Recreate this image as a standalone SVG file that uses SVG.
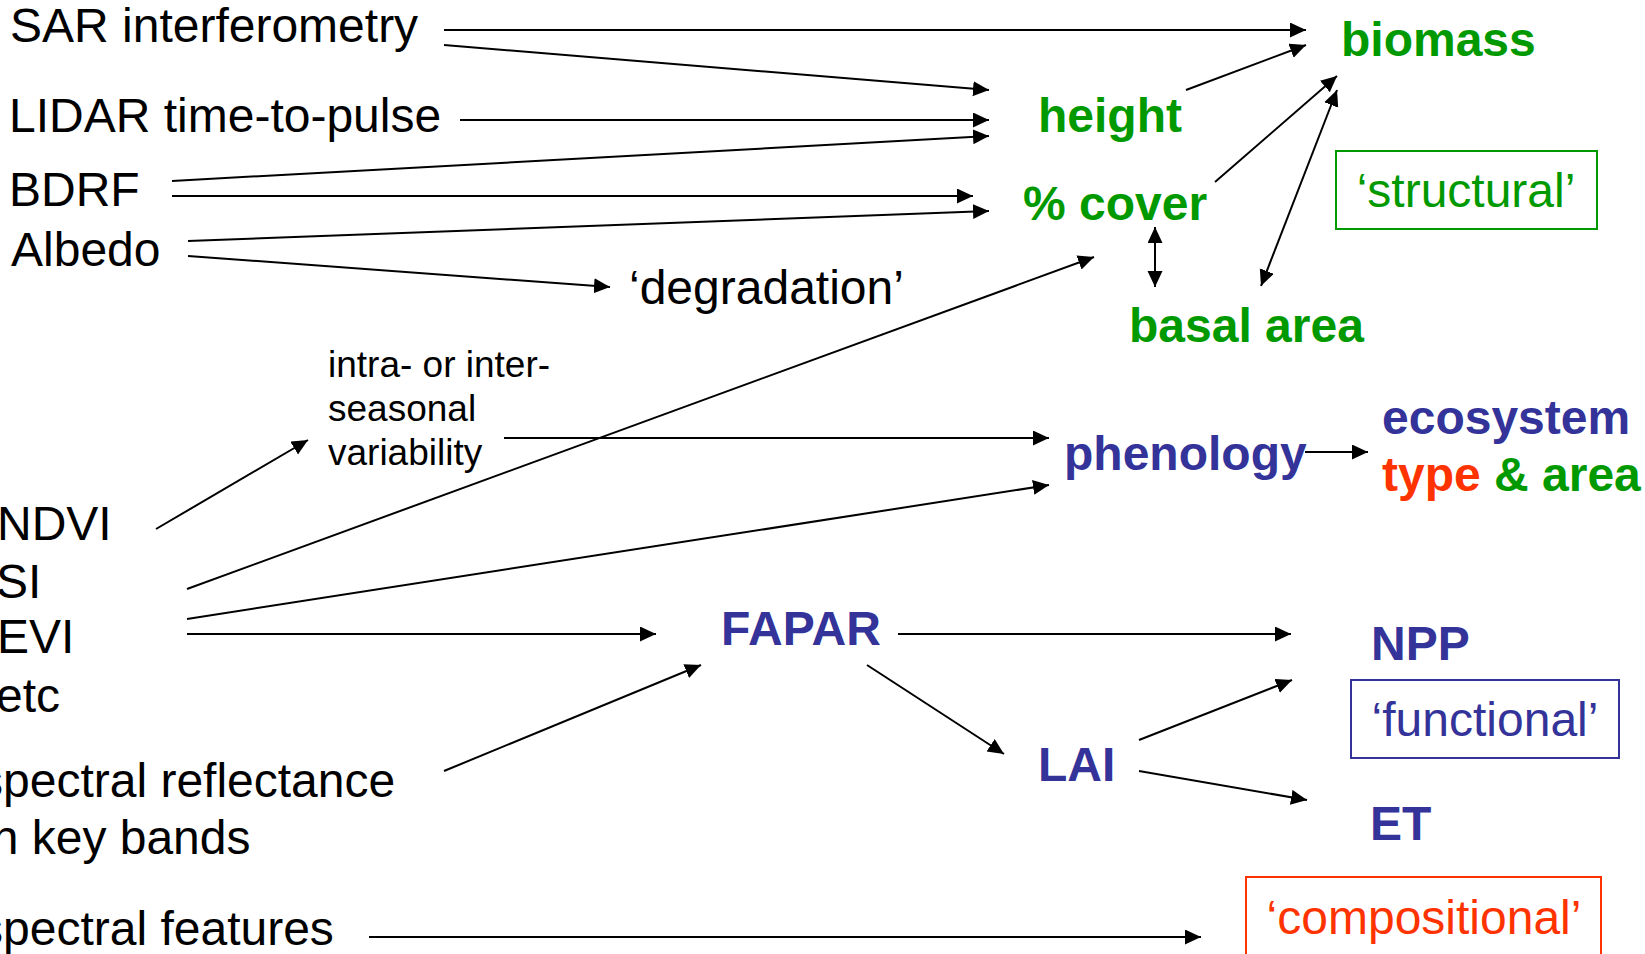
<svg xmlns="http://www.w3.org/2000/svg" width="1645" height="954" viewBox="0 0 1645 954">
  <defs>
    <style>
      text { font-family: "Liberation Sans", Arial, sans-serif; font-size: 48px; fill: #000; }
      .bold { font-weight: bold; }
      .small { font-size: 37px; }
      .green { fill: #009900; }
      .blue { fill: #333399; }
      .red { fill: #FF3300; }
      .mid { text-anchor: middle; }
      .conn line { stroke: #000; stroke-width: 2; fill: none; marker-end: url(#arrow); }
      .conn line.both { marker-start: url(#arrow); }
      .box { fill: none; stroke-width: 2; }
    </style>
    <marker id="arrow" markerUnits="userSpaceOnUse" markerWidth="17" markerHeight="16" refX="16" refY="7.5" orient="auto-start-reverse">
      <path d="M0,0 L16,7.5 L0,15 z" fill="#000"/>
    </marker>
  </defs>
  <rect width="1645" height="954" fill="#fff"/>

  <!-- sources -->
  <g id="sar"><text x="10" y="42">SAR interferometry</text></g>
  <g id="lidar"><text x="9" y="132">LIDAR time-to-pulse</text></g>
  <g id="bdrf"><text x="9" y="206">BDRF</text></g>
  <g id="albedo"><text x="11" y="266">Albedo</text></g>
  <g id="ndvi"><text x="-3" y="540">NDVI</text></g>
  <g id="si"><text x="-4" y="598">SI</text></g>
  <g id="evi"><text x="-3" y="653">EVI</text></g>
  <g id="etc"><text x="-4" y="712">etc</text></g>
  <g id="reflectance">
    <text x="-21" y="797">spectral reflectance</text>
    <text x="-19" y="854">in key bands</text>
  </g>
  <g id="features"><text x="-21" y="945">spectral features</text></g>

  <!-- intermediate -->
  <g id="degradation"><text x="629" y="304">‘degradation’</text></g>
  <g id="variability">
    <text class="small" x="328" y="377">intra- or inter-</text>
    <text class="small" x="328" y="421">seasonal</text>
    <text class="small" x="328" y="465">variability</text>
  </g>

  <!-- structural -->
  <g id="biomass"><text class="bold green" x="1341" y="56">biomass</text></g>
  <g id="height"><text class="bold green" x="1038" y="132">height</text></g>
  <g id="cover"><text class="bold green" x="1023" y="220">% cover</text></g>
  <g id="basal"><text class="bold green" x="1129" y="342">basal area</text></g>
  <g id="structural">
    <rect class="box" x="1336" y="151" width="261" height="78" stroke="#009900"/>
    <text class="green mid" x="1466" y="207">‘structural’</text>
  </g>

  <!-- phenology / ecosystem -->
  <g id="phenology"><text class="bold blue" x="1064" y="470">phenology</text></g>
  <g id="ecosystem">
    <text class="bold blue" x="1382" y="434">ecosystem</text>
    <text class="bold" x="1382" y="491"><tspan class="red">type</tspan><tspan class="green"> &amp; area</tspan></text>
  </g>

  <!-- functional -->
  <g id="fapar"><text class="bold blue" x="721" y="645" textLength="160">FAPAR</text></g>
  <g id="lai"><text class="bold blue" x="1038" y="781">LAI</text></g>
  <g id="npp"><text class="bold blue" x="1371" y="660">NPP</text></g>
  <g id="et"><text class="bold blue" x="1370" y="840">ET</text></g>
  <g id="functional">
    <rect class="box" x="1351" y="680" width="268" height="78" stroke="#333399"/>
    <text class="blue mid" x="1485" y="736">‘functional’</text>
  </g>

  <!-- compositional -->
  <g id="compositional">
    <rect class="box" x="1246" y="877" width="355" height="90" stroke="#FF3300"/>
    <text class="red mid" x="1424" y="934">‘compositional’</text>
  </g>

  <!-- connectors -->
  <g id="connectors" class="conn">
    <line x1="444" y1="30" x2="1306" y2="30"/>
    <line x1="444" y1="45" x2="989" y2="90"/>
    <line x1="460" y1="120" x2="989" y2="120"/>
    <line x1="172" y1="181" x2="989" y2="136"/>
    <line x1="172" y1="196" x2="973" y2="196"/>
    <line x1="188" y1="241" x2="989" y2="211"/>
    <line x1="188" y1="256" x2="610" y2="287"/>
    <line x1="1186" y1="90" x2="1306" y2="45"/>
    <line x1="1215" y1="182" x2="1337" y2="76"/>
    <line class="both" x1="1261" y1="286" x2="1337" y2="90"/>
    <line class="both" x1="1155" y1="227" x2="1155" y2="287"/>
    <line x1="187" y1="589" x2="1094" y2="257"/>
    <line x1="156" y1="529" x2="308" y2="440"/>
    <line x1="504" y1="438" x2="1049" y2="438"/>
    <line x1="187" y1="619" x2="1049" y2="485"/>
    <line x1="187" y1="634" x2="656" y2="634"/>
    <line x1="444" y1="771" x2="701" y2="665"/>
    <line x1="898" y1="634" x2="1291" y2="634"/>
    <line x1="867" y1="665" x2="1004" y2="754"/>
    <line x1="1139" y1="740" x2="1292" y2="680"/>
    <line x1="1139" y1="771" x2="1307" y2="800"/>
    <line x1="369" y1="937" x2="1201" y2="937"/>
    <line x1="1305" y1="452" x2="1368" y2="452"/>
  </g>
</svg>
